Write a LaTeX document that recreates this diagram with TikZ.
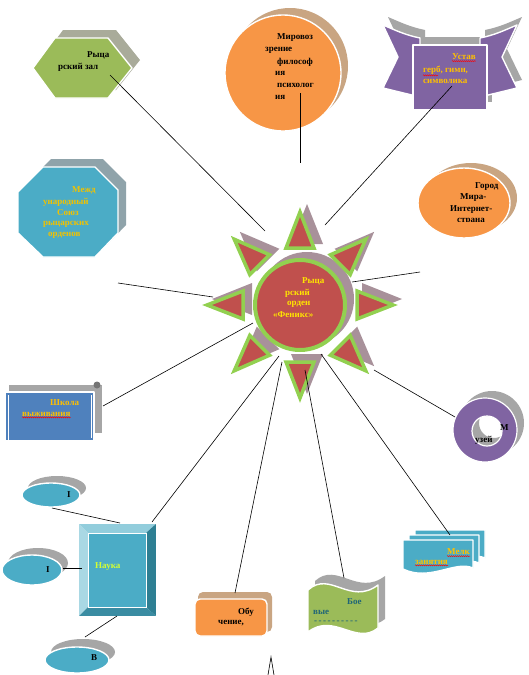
\documentclass[tikz,border=0pt]{standalone}
\usepackage{fontspec}
\setmainfont{Liberation Serif}
\usetikzlibrary{decorations.pathmorphing}
\definecolor{cGreen}{HTML}{9BBB59}
\definecolor{cHexSh}{HTML}{A9AB9A}
\definecolor{cOrange}{HTML}{F79646}
\definecolor{cTan}{HTML}{C9A582}
\definecolor{cPurple}{HTML}{8064A2}
\definecolor{cGray}{HTML}{A6A6A6}
\definecolor{cTeal}{HTML}{4BACC6}
\definecolor{cOctSh}{HTML}{8FA3AA}
\definecolor{cRed}{HTML}{C0504D}
\definecolor{cLime}{HTML}{92D050}
\definecolor{cSunSh}{HTML}{A8919A}
\definecolor{cBlue}{HTML}{4F81BD}
\definecolor{cGold}{HTML}{FFC000}
\definecolor{cOctTxt}{HTML}{F2C200}
\definecolor{cYel}{HTML}{FFE600}
\definecolor{cNauka}{HTML}{D4FF33}
\definecolor{cBoe}{HTML}{1F6577}
\definecolor{cBevTop}{HTML}{92CDDC}
\definecolor{cBevLeft}{HTML}{A9D8E4}
\definecolor{cBevRight}{HTML}{2E7F93}
\definecolor{cBevBot}{HTML}{3A8CA2}
\newcommand\lbf{\fontsize{9}{11}\selectfont\bfseries}
\begin{document}
\begin{tikzpicture}[x=1pt,y=-1pt,
  lbl/.style={inner sep=0pt, anchor=west, font=\lbf},
  conn/.style={draw=black, line width=0.6pt},
  wavy/.style={draw=red, line width=0.4pt, decorate, decoration={snake, amplitude=0.6pt, segment length=2pt}},
  wedge/.style={draw=white, line width=1.4pt, line join=round}]
\useasboundingbox (0,0) rectangle (529,675);
\fill[white] (0,0) rectangle (529,675);

% ---------- hexagon: Рыцарский зал
\fill[cHexSh] (41,60) -- (63,30) -- (116,30) -- (140,60) -- (116,90) -- (63,90) -- cycle;
\filldraw[fill=cGreen, wedge] (33,68) -- (55,38) -- (108,38) -- (132,68) -- (108,98) -- (55,98) -- cycle;
\node[lbl] (hx1) at (87,55) {Рыца};
\node[lbl] (hx2) at (58,67) {рский зал};

% ---------- circle: Мировоззрение
\fill[cTan] (290,66) circle (58);
\filldraw[fill=cOrange, wedge] (283,73) circle (58);
\node[lbl] (mr1) at (277,38) {Мировоз};
\node[lbl] (mr2) at (265,50) {зрение};
\node[lbl] (mr3) at (277,62) {философ};
\node[lbl] (mr4) at (275,73) {ия};
\node[lbl] (mr5) at (277,85) {психолог};
\node[lbl] (mr6) at (275,97) {ия};

% ---------- banner: Устав
\begin{scope}[shift={(5,-8)}]
\fill[cGray] (383,25) .. controls (395,30) and (405,35) .. (420,38) -- (420,97) -- (383,88) -- (398,57) -- cycle;
\fill[cGray] (517,25) .. controls (505,30) and (495,35) .. (480,38) -- (480,97) -- (517,88) -- (502,57) -- cycle;
\fill[cGray] (413,45) -- (487,45) -- (487,110) -- (413,110) -- cycle;
\end{scope}
\filldraw[fill=cPurple, wedge] (383,25) .. controls (395,30) and (405,35) .. (420,38) -- (420,97) -- (383,88) -- (398,57) -- cycle;
\filldraw[fill=cPurple, wedge] (517,25) .. controls (505,30) and (495,35) .. (480,38) -- (480,97) -- (517,88) -- (502,57) -- cycle;
\filldraw[fill=cPurple, wedge] (413,45) -- (487,45) -- (487,110) -- (413,110) -- cycle;
\node[lbl, text=cGold] (bn1) at (452,57) {Устав};
\node[lbl, text=cGold] (bn2) at (423,70) {герб, гимн,};
\node[lbl, text=cGold] (bn3) at (423,81) {символика};
\draw[wavy] ([yshift=-1pt]bn1.south west) -- ([yshift=-1pt]bn1.south east);
\draw[wavy] ([yshift=-1pt]bn2.south west) -- ([yshift=-1pt,xshift=-30pt]bn2.south east);

% ---------- ellipse: Город Мира
\fill[cTan] (471,198) ellipse [x radius=46, y radius=35];
\filldraw[fill=cOrange, wedge] (464,203) ellipse [x radius=46, y radius=35];
\begin{scope}
\clip (400,150) rectangle (529,221);
\node[lbl] (gr1) at (475,187) {Город};
\node[lbl] (gr2) at (460,198) {Мира-};
\node[lbl] (gr3) at (450,210) {Интернет-};
\node[lbl] (gr4) at (457,221) {страна};
\end{scope}

% ---------- octagon
\fill[cOctSh] (51,159) -- (103,159) -- (126,182) -- (126,225) -- (103,249) -- (51,249) -- (26,225) -- (26,184) -- cycle;
\filldraw[fill=cTeal, wedge] (43,167) -- (95,167) -- (118,190) -- (118,233) -- (95,257) -- (43,257) -- (18,233) -- (18,192) -- cycle;
\node[lbl, text=cOctTxt] (oc1) at (72,190) {Межд};
\node[lbl, text=cOctTxt] (oc2) at (43,202) {ународный};
\node[lbl, text=cOctTxt] (oc3) at (57,213) {Союз};
\node[lbl, text=cOctTxt] (oc4) at (43,224) {рыцарских};
\node[lbl, text=cOctTxt] (oc5) at (48,235) {орденов};

% ---------- sun
\foreach \a in {0,45,...,315}{
  \fill[cSunSh, shift={(307,299)}, rotate=\a] (95,0) -- (55,16) -- (55,-16) -- cycle;
}
\fill[cSunSh] (307,299) circle (47);
\foreach \a in {0,45,...,315}{
  \filldraw[fill=cRed, draw=cLime, line width=3.5pt, line join=miter, shift={(300,305)}, rotate=\a] (93,0) -- (57,14) -- (57,-14) -- cycle;
}
\filldraw[fill=cRed, draw=cLime, line width=4pt] (300,305) circle (45);
\node[lbl, text=cYel] (sn1) at (302,281) {Рыца};
\node[lbl, text=cYel] (sn2) at (285,293) {рский};
\node[lbl, text=cYel] (sn3) at (287,304) {орден};
\node[lbl, text=cYel] (sn4) at (273,315) {«Феникс»};

% ---------- scroll: Школа выживания
\fill[cGray] (9,385) rectangle (102,433);
\fill[cGray!70!black] (97,385) circle (3.5);
\filldraw[fill=cBlue, wedge] (5,392) rectangle (94,441);
\draw[white, line width=0.8pt] (8,395) -- (8,440);
\draw[white, line width=0.8pt] (91,395) -- (91,438);
\node[lbl, text=cGold] (sk1) at (50,403) {Школа};
\node[lbl, text=cGold] (sk2) at (22,414) {выживания};
\draw[wavy] ([yshift=-1pt]sk2.south west) -- ([yshift=-1pt]sk2.south east);

% ---------- ring: Музей
\fill[cGray, even odd rule] (492,423) circle (32) (494,423) circle (15);
\filldraw[fill=cPurple, draw=white, line width=1.2pt, even odd rule] (485,430) circle (32) (487,431) circle (15);
\node[lbl] (mz1) at (500,428) {М};
\node[lbl] (mz2) at (475,440) {узей};

% ---------- ellipses near Наука
\fill[cGray] (57,488) ellipse [x radius=29, y radius=12];
\filldraw[fill=cTeal, wedge] (51,495) ellipse [x radius=29, y radius=12];
\node[lbl] (e1t) at (67,495) {I};
\fill[cGray] (38,563) ellipse [x radius=30, y radius=15];
\filldraw[fill=cTeal, wedge] (32,570) ellipse [x radius=30, y radius=15];
\node[lbl] (e2t) at (46,570) {I};
\fill[cGray] (83,652) ellipse [x radius=32, y radius=13];
\filldraw[fill=cTeal, wedge] (77,660) ellipse [x radius=32, y radius=13];
\node[lbl] (e3t) at (91,658) {В};

% ---------- bevel: Наука
\fill[cBevTop] (78,523) -- (157,523) -- (146,533) -- (88,533) -- cycle;
\fill[cBevLeft] (78,523) -- (88,533) -- (88,607) -- (78,617) -- cycle;
\fill[cBevRight] (157,523) -- (157,617) -- (146,607) -- (146,533) -- cycle;
\fill[cBevBot] (78,617) -- (157,617) -- (146,607) -- (88,607) -- cycle;
\filldraw[fill=cTeal, draw=white, line width=1pt] (88,533) rectangle (146,607);
\draw[white, line width=1.4pt] (78,523) rectangle (157,617);
\node[lbl, text=cNauka] (nk) at (95,567) {Наука};

% ---------- rounded box: Обучение
\fill[cTan, rounded corners=5pt] (198,592) rectangle (272,632);
\filldraw[fill=cOrange, wedge, rounded corners=5pt] (195,599) rectangle (267,636);
\node[lbl] (ob1) at (238,612) {Обу};
\node[lbl] (ob2) at (218,623) {чение,};

% ---------- wave flag: Боевые
\fill[cGray, shift={(7,-9)}] (308,590) .. controls (330,570) and (350,606) .. (378,585) -- (378,628) .. controls (356,646) and (334,612) .. (308,632) -- cycle;
\filldraw[fill=cGreen, wedge] (308,590) .. controls (330,570) and (350,606) .. (378,585) -- (378,628) .. controls (356,646) and (334,612) .. (308,632) -- cycle;
\node[lbl, text=cBoe] (bo1) at (347,602) {Бое};
\node[lbl, text=cBoe] (bo2) at (313,612) {вые};
\node[lbl, text=cBoe] (bo3) at (314,622) {-\,-\,-\,-\,-\,-\,-\,-\,-\,-};

% ---------- stacked documents: Мелкие
\foreach \dx/\dy in {12/-10,6/-5,0/0}{
  \filldraw[fill=cTeal, wedge, shift={(\dx,\dy)}] (403,540) -- (473,540) -- (473,568) .. controls (455,560) and (430,582) .. (403,569) -- cycle;
}
\node[lbl, text=cGold] (ml1) at (447,552) {Мелк};
\node[lbl, text=cGold] (ml2) at (415,562) {занятия};
\draw[wavy] ([yshift=-1pt]ml1.south west) -- ([yshift=-1pt]ml1.south east);
\draw[wavy] ([yshift=-1pt]ml2.south west) -- ([yshift=-1pt]ml2.south east);

% ---------- connector end points
\coordinate (hexA) at (110,75);   \coordinate (sunA) at (265,231);
\coordinate (mirA) at (300,93);   \coordinate (mirB) at (300,163);
\coordinate (banA) at (452,86);   \coordinate (sunB) at (325,225);
\coordinate (gorA) at (420,272);  \coordinate (sunC) at (352,282);
\coordinate (octA) at (118,283);  \coordinate (sunD) at (213,297);
\coordinate (shkA) at (103,406);  \coordinate (sunE) at (253,323);
\coordinate (nauA) at (152,522);  \coordinate (sunF) at (279,356);
\coordinate (obuA) at (235,593);  \coordinate (sunG) at (282,362);
\coordinate (boeA) at (344,578);  \coordinate (sunH) at (305,370);
\coordinate (melA) at (450,535);  \coordinate (sunI) at (321,354);
\coordinate (muzA) at (455,417);  \coordinate (sunJ) at (374,370);
\coordinate (e1A) at (52,508);    \coordinate (nauB) at (120,523);
\coordinate (e2A) at (63,568);    \coordinate (nauC) at (82,568);
\coordinate (e3A) at (85,637);    \coordinate (nauD) at (117,616);
\coordinate (lamA) at (268,675);  \coordinate (lamB) at (271,657);
\coordinate (lamC) at (274,675);

% ---------- connectors
\draw[conn] (hexA) -- (sunA);
\draw[conn] (mirA) -- (mirB);
\draw[conn] (banA) -- (sunB);
\draw[conn] (gorA) -- (sunC);
\draw[conn] (octA) -- (sunD);
\draw[conn] (shkA) -- (sunE);
\draw[conn] (nauA) -- (sunF);
\draw[conn] (obuA) -- (sunG);
\draw[conn] (boeA) -- (sunH);
\draw[conn] (melA) -- (sunI);
\draw[conn] (muzA) -- (sunJ);
\draw[conn] (e1A) -- (nauB);
\draw[conn] (e2A) -- (nauC);
\draw[conn] (e3A) -- (nauD);
\draw[conn] (lamA) -- (lamB) -- (lamC);
\end{tikzpicture}
\end{document}
